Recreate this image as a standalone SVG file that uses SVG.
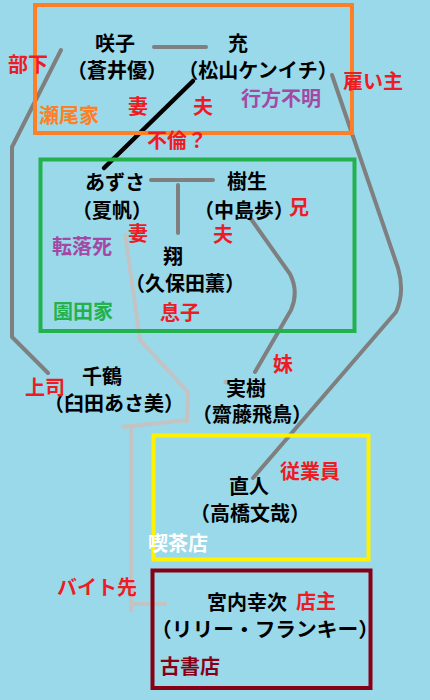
<svg xmlns="http://www.w3.org/2000/svg" width="430" height="700" viewBox="0 0 430 700">
<style>
.n{font-family:"Noto Sans CJK JP","Noto Sans",sans-serif;font-size:20px;font-weight:bold;fill:#000;text-anchor:middle}
.l{font-family:"Noto Sans CJK JP","Noto Sans",sans-serif;font-size:20px;font-weight:bold}
.r{fill:#ed1c24}
.p{fill:#a349a4}
.box{fill:none;stroke-width:4}
.g{fill:none;stroke:#7f7f7f;stroke-width:4;stroke-linecap:round;stroke-linejoin:round}
.lg{fill:none;stroke:#c3c3c3;stroke-width:4;stroke-linejoin:round}
</style>
<rect width="430" height="700" fill="#99d9ea"/>
<g id="connectors">
<path class="g" d="M154,47 H206"/>
<path d="M193,81 L104,168" stroke="#000" stroke-width="4.5" stroke-linecap="round"/>
<path class="g" d="M61,50 L12,147 L12,337 L48,373"/>
<path class="g" d="M332,75 L398,268 Q405,292 396,312 L253,478"/>
<path class="g" d="M251,219 L290,274 Q299,292 291,310 L255,372"/>
<path class="g" d="M151,180 H213 M178,185 V233"/>
<path class="lg" d="M125,233 L140,340 L188,392 L187,423"/>
<path class="lg" d="M122,427 L187,420"/>
<path class="lg" d="M131,427 V612"/>
<path class="lg" d="M131,604 H167"/>
<circle cx="226" cy="382" r="2.5" fill="#b4b4b4"/>
</g>
<g id="seo-family">
<rect class="box" x="35" y="5" width="317" height="128" stroke="#ff7f27"/>
<text class="l" x="39" y="123" fill="#ff7f27">瀬尾家</text>
</g>
<g id="sakiko">
<text class="n" x="115" y="51">咲子</text>
<text class="n" x="117" y="78">（蒼井優）</text>
</g>
<g id="mitsuru">
<text class="n" x="238" y="51">充</text>
<text class="n" x="258" y="78">（松山ケンイチ）</text>
<text class="l p" x="241" y="106">行方不明</text>
</g>
<g id="labels-top">
<text class="l r" x="8" y="72">部下</text>
<text class="l r" x="343" y="89">雇い主</text>
<text class="l r" x="128" y="114">妻</text>
<text class="l r" x="193" y="114">夫</text>
<text class="l r" x="147" y="148">不倫？</text>
</g>
<g id="sonoda-family">
<rect class="box" x="40.5" y="159.5" width="314" height="171.5" stroke="#22b14c"/>
<text class="l" x="53" y="319" fill="#22b14c">園田家</text>
</g>
<g id="azusa">
<text class="n" x="115" y="190">あずさ</text>
<text class="n" x="112" y="218">（夏帆）</text>
<text class="l r" x="128" y="241">妻</text>
<text class="l p" x="52" y="254">転落死</text>
</g>
<g id="itsuki">
<text class="n" x="247" y="189">樹生</text>
<text class="n" x="244" y="218">（中島歩）</text>
<text class="l r" x="289" y="215">兄</text>
<text class="l r" x="213" y="242">夫</text>
</g>
<g id="sho">
<text class="n" x="173" y="264">翔</text>
<text class="n" x="185" y="291">（久保田薫）</text>
<text class="l r" x="160" y="320">息子</text>
</g>
<g id="chizuru">
<text class="n" x="102" y="384">千鶴</text>
<text class="n" x="114" y="411">（臼田あさ美）</text>
<text class="l r" x="25" y="395">上司</text>
</g>
<g id="miki">
<text class="n" x="246" y="396">実樹</text>
<text class="n" x="252" y="422">（齋藤飛鳥）</text>
<text class="l r" x="273" y="372">妹</text>
</g>
<g id="cafe">
<rect class="box" x="153.5" y="435.5" width="215" height="124" stroke="#fff200"/>
<text class="l" x="148" y="551" fill="#fff">喫茶店</text>
</g>
<g id="naoto">
<text class="n" x="249" y="494">直人</text>
<text class="n" x="250" y="521">（高橋文哉）</text>
<text class="l r" x="280" y="479">従業員</text>
</g>
<g id="bookstore">
<rect class="box" x="152.5" y="570.5" width="218" height="117.5" stroke="#880015"/>
<text class="l" x="160" y="674" fill="#880015">古書店</text>
</g>
<g id="koji">
<text class="n" x="247" y="610">宮内幸次</text>
<text class="n" x="265" y="637" textLength="228" lengthAdjust="spacingAndGlyphs">（リリー・フランキー）</text>
<text class="l r" x="296" y="609">店主</text>
</g>
<text class="l r" x="57" y="595">バイト先</text>
</svg>
